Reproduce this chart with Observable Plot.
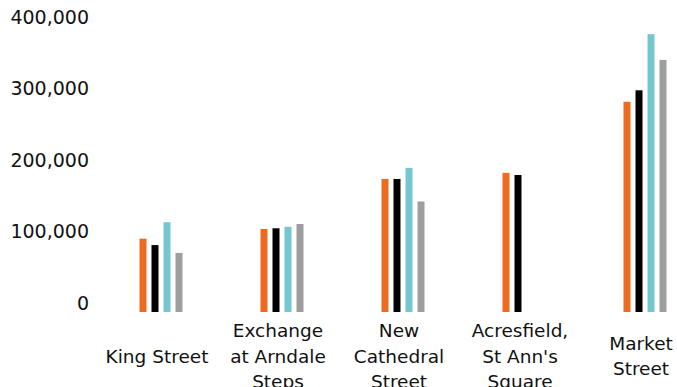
<!DOCTYPE html>
<html><head><meta charset="utf-8">
<script src="https://cdn.jsdelivr.net/npm/d3@7"></script>
<script src="https://cdn.jsdelivr.net/npm/@observablehq/plot@0.6"></script>
<style>html,body{margin:0;padding:0;background:#fff;overflow:hidden}</style>
</head><body><div id="chart"></div>
<script>
const categories = ["King Street", "Exchange\nat Arndale\nSteps", "New\nCathedral\nStreet", "Acresfield,\nSt Ann's\nSquare", "Market\nStreet"];
const seriesNames = ["Series 1", "Series 2", "Series 3", "Series 4"];
const series1 = [90000, 103500, 173500, 182000, 281500];
const series2 = [81000, 104500, 173500, 179000, 297500];
const series3 = [113000, 106500, 189000, null, 376000];
const series4 = [70000, 110500, 142000, null, 340000];
const yTicks = [0, 100000, 200000, 300000, 400000];
const colors = ["#EE6A1F", "#000000", "#74C7CE", "#9E9E9E"];

const allSeries = [series1, series2, series3, series4];
const data = [];
categories.forEach((c, i) => {
  allSeries.forEach((s, j) => {
    if (s[i] != null) data.push({cat: c, series: seriesNames[j], value: s[i]});
  });
});

const chart = Plot.plot({
  width: 677,
  height: 387,
  marginTop: 17,
  marginBottom: 84,
  marginLeft: 100.5,
  marginRight: -28.5,
  style: {fontFamily: "'DejaVu Sans', sans-serif", fontSize: "19px", color: "#111", background: "#fff", overflow: "visible"},
  fx: {domain: categories, padding: 0, axis: null},
  x: {domain: seriesNames, axis: null, paddingInner: 0.385, paddingOuter: 0, insetLeft: 38.5, insetRight: 38.5},
  y: {domain: [0, 400000]},
  color: {domain: seriesNames, range: colors},
  marks: [
    Plot.axisY({ticks: yTicks, tickSize: 0, tickPadding: 12.5, tickFormat: d3.format(","), label: null, fontSize: 19}),
    Plot.barY(data, {fx: "cat", x: "series", y: "value", fill: "series", insetBottom: -9}),
    Plot.text(categories, {fx: d => d, text: d => d, frameAnchor: "bottom", dx: -5, dy: 51, lineAnchor: "middle", lineHeight: 1.36, fontSize: 18.5, fill: "#111"})
  ]
});
document.getElementById("chart").appendChild(chart);
</script>
</body></html>
